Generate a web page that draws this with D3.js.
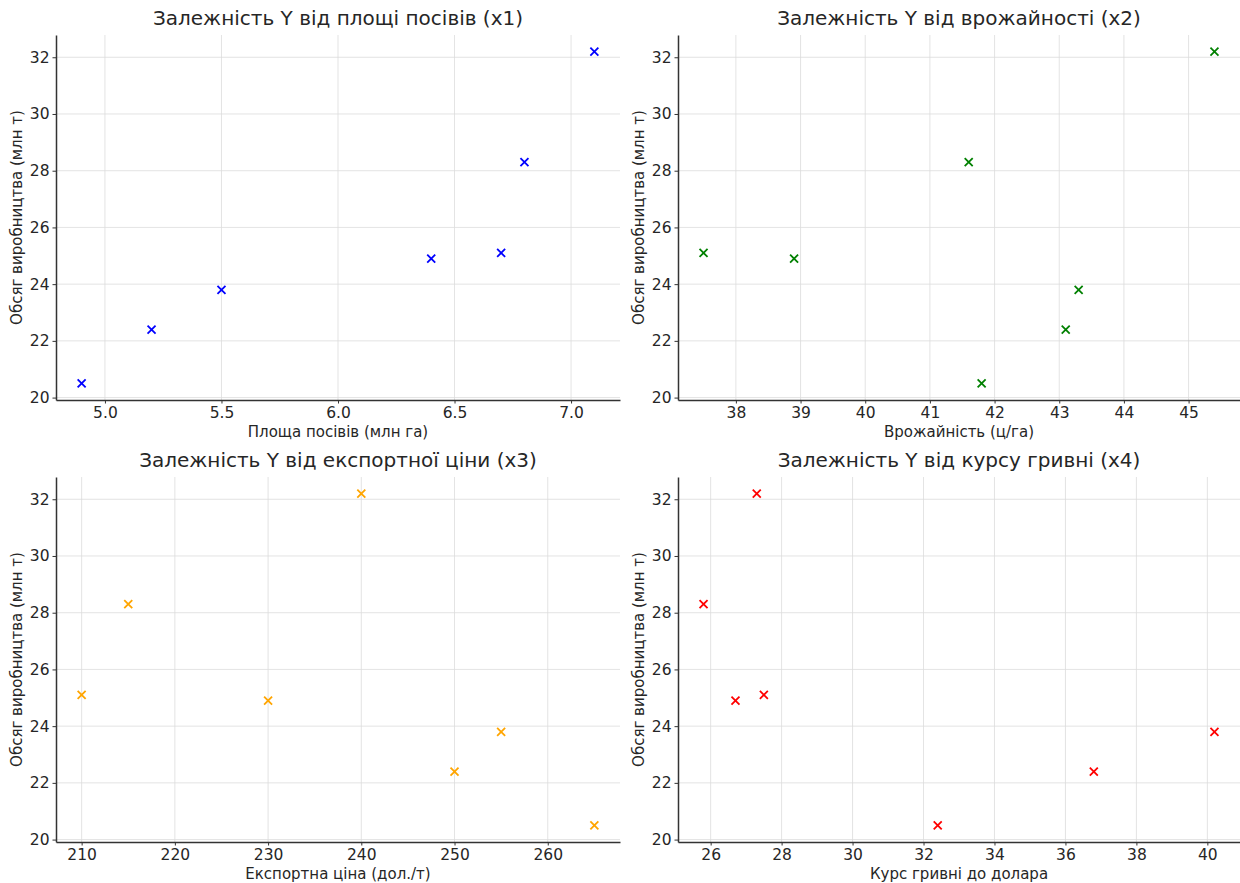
<!DOCTYPE html>
<html>
<head>
  <meta charset="utf-8">
  <title>Залежність Y від факторів</title>
  <script src="https://d3js.org/d3.v7.min.js"></script>
  <style>
    body { margin: 0; background: #fff; }
    svg { display: block; font-family: "DejaVu Sans", sans-serif; }
  </style>
</head>
<body>
  <svg id="chart"></svg>

  <script>
    // Обсяг виробництва (млн т)
    var yValues = [20.5, 22.4, 23.8, 24.9, 25.1, 28.3, 32.2];

    // factors, same order as yValues
    var x1 = [4.9, 5.2, 5.5, 6.4, 6.7, 6.8, 7.1];
    var x2 = [41.8, 43.1, 43.3, 38.9, 37.5, 41.6, 45.4];
    var x3 = [265, 250, 255, 230, 210, 215, 240];
    var x4 = [32.4, 36.8, 40.2, 26.7, 27.5, 25.8, 27.3];

    var titles = [
      "Залежність Y від площі посівів (x1)",
      "Залежність Y від врожайності (x2)",
      "Залежність Y від експортної ціни (x3)",
      "Залежність Y від курсу гривні (x4)"
    ];
    var xLabels = [
      "Площа посівів (млн га)",
      "Врожайність (ц/га)",
      "Експортна ціна (дол./т)",
      "Курс гривні до долара"
    ];
    var yLabel = "Обсяг виробництва (млн т)";

    var xTicks = [
      [5.0, 5.5, 6.0, 6.5, 7.0],
      [38, 39, 40, 41, 42, 43, 44, 45],
      [210, 220, 230, 240, 250, 260],
      [26, 28, 30, 32, 34, 36, 38, 40]
    ];
    var yTicks = [20, 22, 24, 26, 28, 30, 32];
    var colors = ["#0000ff", "#008000", "#ffa500", "#ff0000"];
    var xSeries = [x1, x2, x3, x4];

    var width = 1240, height = 883;
    var svg = d3.select("#chart").attr("width", width).attr("height", height);

    // panel boxes (plot areas)
    var cols = [{ left: 56, right: 620 }, { left: 678, right: 1240 }];
    var rows = [{ top: 35, bottom: 400 }, { top: 477, bottom: 842 }];

    // matplotlib-like 5% padding on data extent
    function padded(values) {
      var ext = d3.extent(values);
      var m = (ext[1] - ext[0]) * 0.05;
      return [ext[0] - m, ext[1] + m];
    }

    var textColor = "#262626";

    xSeries.forEach(function(xs, i) {
      var c = cols[i % 2], r = rows[Math.floor(i / 2)];
      var w = c.right - c.left, h = r.bottom - r.top;

      var x = d3.scaleLinear().domain(padded(xs)).range([0, w]);
      var y = d3.scaleLinear().domain(padded(yValues)).range([h, 0]);

      var g = svg.append("g").attr("transform", "translate(" + c.left + "," + r.top + ")");

      // grid
      g.append("g").selectAll("line").data(xTicks[i]).enter().append("line")
        .attr("x1", d => x(d)).attr("x2", d => x(d))
        .attr("y1", 0).attr("y2", h)
        .attr("stroke", "#dcdcdc").attr("stroke-width", 0.8);
      g.append("g").selectAll("line").data(yTicks).enter().append("line")
        .attr("x1", 0).attr("x2", w)
        .attr("y1", d => y(d)).attr("y2", d => y(d))
        .attr("stroke", "#dcdcdc").attr("stroke-width", 0.8);

      // axes
      var fmt = i === 0 ? d3.format(".1f") : d3.format("d");
      var xAxis = g.append("g").attr("transform", "translate(0," + h + ")")
        .call(d3.axisBottom(x).tickValues(xTicks[i]).tickFormat(fmt).tickSizeInner(3.5).tickSizeOuter(0).tickPadding(3));
      var yAxis = g.append("g")
        .call(d3.axisLeft(y).tickValues(yTicks).tickSizeInner(3.5).tickSizeOuter(0).tickPadding(3));

      [xAxis, yAxis].forEach(function(a) {
        a.select(".domain").attr("stroke", "#333").attr("stroke-width", 1.5);
        a.selectAll(".tick line").attr("stroke", "#333").attr("stroke-width", 1);
        a.selectAll(".tick text").attr("fill", textColor)
          .style("font-family", "DejaVu Sans, sans-serif").style("font-size", "15.5px");
      });

      // x markers
      var s = 4;
      g.append("g").selectAll("path").data(xs).enter().append("path")
        .attr("d", function(d, k) {
          var px = x(d), py = y(yValues[k]);
          return "M" + (px - s) + "," + (py - s) + "L" + (px + s) + "," + (py + s) +
                 "M" + (px - s) + "," + (py + s) + "L" + (px + s) + "," + (py - s);
        })
        .attr("stroke", colors[i]).attr("stroke-width", 1.8).attr("fill", "none");

      // title and labels
      g.append("text").attr("x", w / 2).attr("y", -10)
        .attr("text-anchor", "middle").attr("fill", textColor)
        .style("font-size", "20px").text(titles[i]);
      g.append("text").attr("x", w / 2).attr("y", h + 37)
        .attr("text-anchor", "middle").attr("fill", textColor)
        .style("font-size", "15px").text(xLabels[i]);
      g.append("text")
        .attr("transform", "translate(-34," + (h / 2) + ") rotate(-90)")
        .attr("text-anchor", "middle").attr("fill", textColor)
        .style("font-size", "15px").text(yLabel);
    });
  </script>
</body>
</html>
